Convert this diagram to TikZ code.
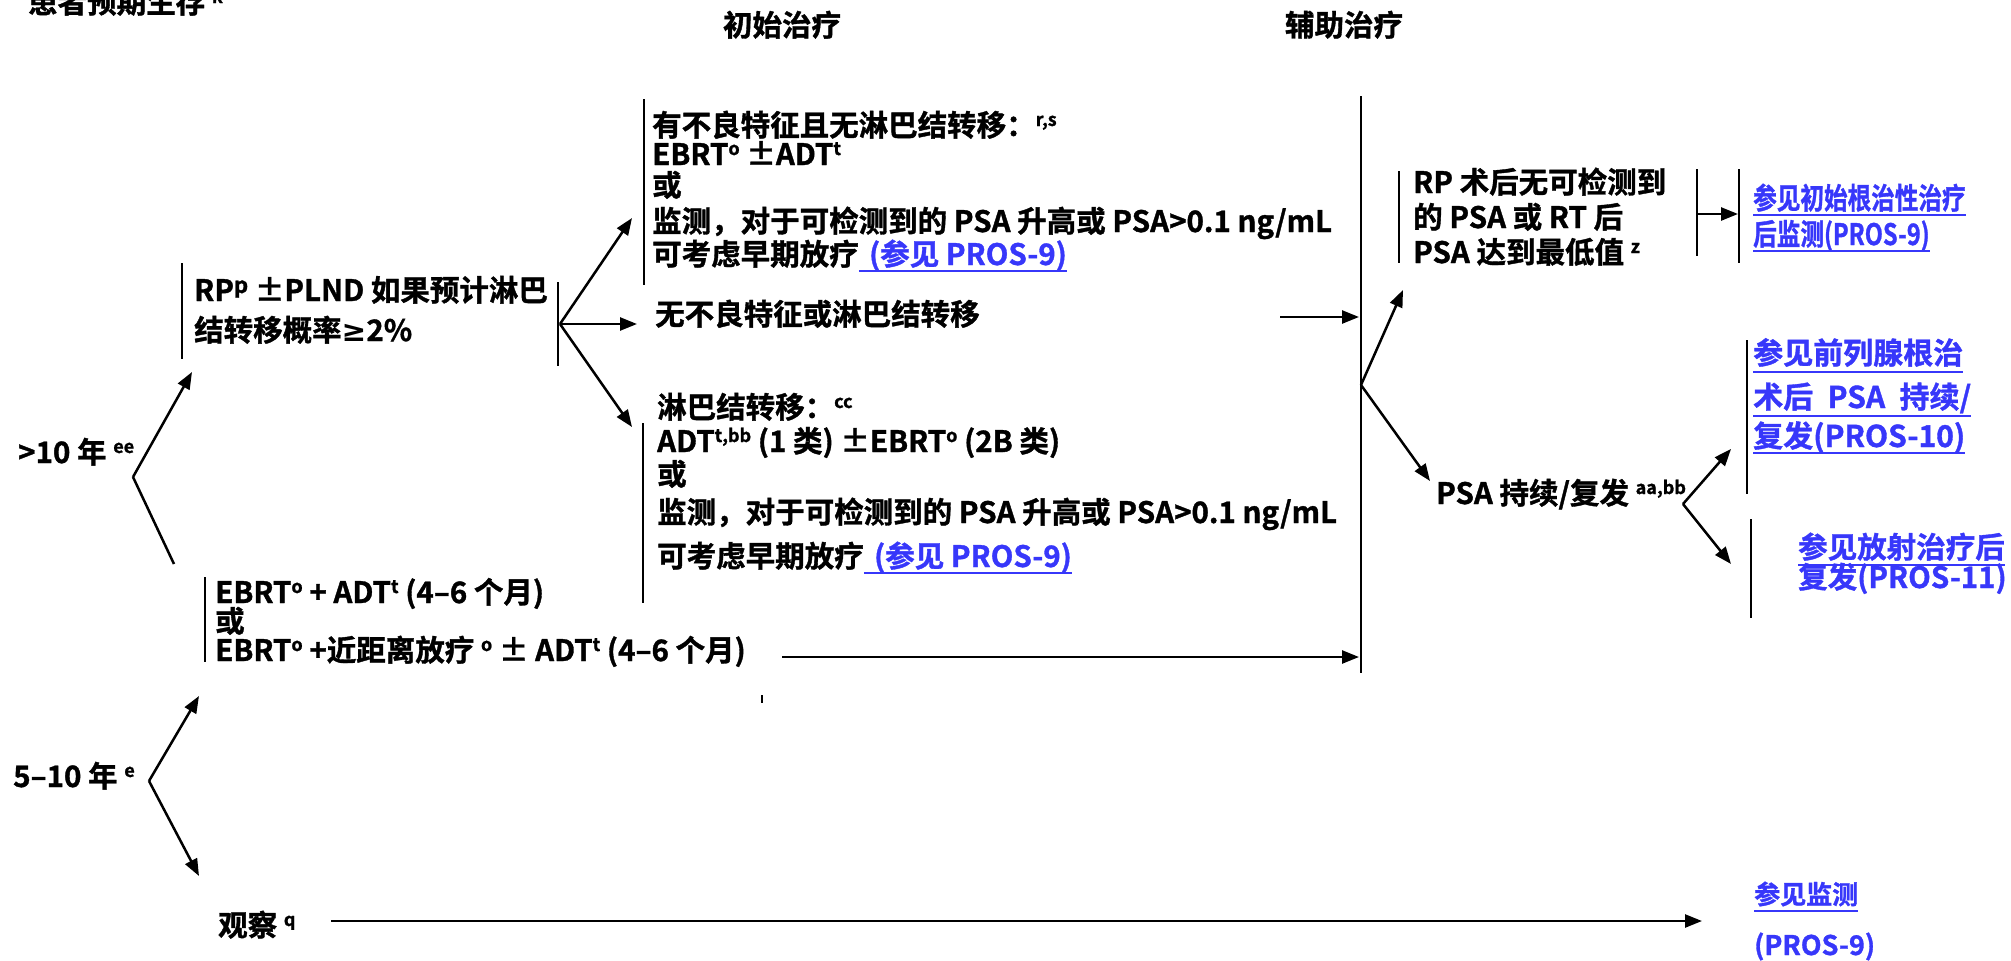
\documentclass[tikz,border=0pt]{standalone}
\usepackage{fontspec}
\usepackage{graphicx}
\setmainfont{Noto Sans CJK SC}[BoldFont={Noto Sans CJK SC Bold},BoldFeatures={FakeBold=1.2}]
\newfontfamily\symf{DejaVu Sans}[BoldFont={DejaVu Sans Bold}]
\usetikzlibrary{arrows.meta}
\definecolor{linkblue}{RGB}{55,55,250}
\newcommand{\ssp}[1]{\raisebox{10pt}{\fontsize{18}{18}\selectfont #1}}
\begin{document}
\begin{tikzpicture}[x=1pt,y=-1pt,
  txt/.style={font=\bfseries\fontsize{29.5}{33}\selectfont, inner sep=0pt, anchor=base west},
  lnk/.style={txt, text=linkblue},
  bar/.style={line width=2.5pt},
  arr/.style={line width=2.5pt, -{Triangle[length=17pt,width=13pt]}},
  ul/.style={draw=linkblue, line width=2.5pt}]
\useasboundingbox (0,0) rectangle (2011,961);

% headers
\node[txt] (hdr1) at (28,13) {患者预期生存 \ssp{k}};
\node[txt, anchor=base] (hdr2) at (782,36) {初始治疗};
\node[txt, anchor=base] (hdr3) at (1344,36) {辅助治疗};

% >10 years
\node[txt] (gt10) at (18,463) {>10 年 \ssp{ee}};
\coordinate (v1) at (133,477);
\coordinate (rpin) at (192,372);
\coordinate (ebin) at (174,564);
\draw[arr] (v1) -- (rpin);
\draw[bar] (v1) -- (ebin);

% RP block
\node[txt] (rp1) at (194,301) {RP\raisebox{8pt}{\fontsize{22}{22}\selectfont p} ±PLND 如果预计淋巴};
\node[txt] (rp2) at (194,341) {结转移概率{\symf\bfseries ≥}2\%};
\draw[bar] (182,263) -- (182,359);
\draw[bar] (558,282) -- (558,366);
\coordinate (v2) at (560,324);
\coordinate (adin) at (632,218);
\coordinate (nfin) at (637,324);
\coordinate (lnin) at (632,427);
\draw[arr] (v2) -- (adin);
\draw[arr] (v2) -- (nfin);
\draw[arr] (v2) -- (lnin);

% adverse features block
\draw[bar] (644,99) -- (644,285);
\node[txt] (ad1) at (652,136) {有不良特征且无淋巴结转移：\ssp{r,s}};
\node[txt] (ad2) at (652,165) {EBRT\ssp{o} ±ADT\ssp{t}};
\node[txt] (ad3) at (652,196) {或};
\node[txt] (ad4) at (652,232) {监测，对于可检测到的 PSA 升高或 PSA>0.1 ng/mL};
\node[txt] (ad5) at (652,265) {可考虑早期放疗};
\node[lnk] (adl) at (ad5.base east) {\hspace{10pt}(参见 PROS-9)\hspace{18pt}};
\draw[ul] ([yshift=-6pt]adl.base west) -- ([yshift=-6pt]adl.base east);

% no adverse features
\node[txt] (nf) at (655,325) {无不良特征或淋巴结转移};
\coordinate (nfout) at (1280,317);
\coordinate (bigin1) at (1359,317);
\draw[arr] (nfout) -- (bigin1);

% lymph node block
\draw[bar] (643,423) -- (643,603);
\node[txt] (ln1) at (657,418) {淋巴结转移：\ssp{cc}};
\node[txt] (ln2) at (657,452) {ADT\ssp{t,bb} (1 类) ±EBRT\ssp{o} (2B 类)};
\node[txt] (ln3) at (657,485) {或};
\node[txt] (ln4) at (657,523) {监测，对于可检测到的 PSA 升高或 PSA>0.1 ng/mL};
\node[txt] (ln5) at (657,567) {可考虑早期放疗};
\node[lnk] (lnl) at (ln5.base east) {\hspace{10pt}(参见 PROS-9)\hspace{18pt}};
\draw[ul] ([yshift=-6pt]lnl.base west) -- ([yshift=-6pt]lnl.base east);

% EBRT block
\draw[bar] (205,577) -- (205,662);
\node[txt] (eb1) at (215,603) {EBRT\ssp{o} + ADT\ssp{t} (4–6 个月)};
\node[txt] (eb2) at (215,632) {或};
\node[txt] (eb3) at (215,661) {EBRT\ssp{o} +近距离放疗 \ssp{o} ± ADT\ssp{t} (4–6 个月)};
\coordinate (ebout) at (782,657);
\coordinate (bigin2) at (1359,657);
\draw[arr] (ebout) -- (bigin2);
\draw[line width=1.5pt] (762,695) -- (762,703);

% big adjuvant bar
\draw[bar] (1361,96) -- (1361,673);

% 5-10 years
\node[txt] (five) at (13,787) {5–10 年 \ssp{e}};
\coordinate (v3) at (149,781);
\coordinate (ebin2) at (199,696);
\coordinate (obsin) at (199,876);
\draw[arr] (v3) -- (ebin2);
\draw[arr] (v3) -- (obsin);

% observation
\node[txt] (obs) at (218,936) {观察 \ssp{q}};
\coordinate (obsout) at (331,921);
\coordinate (monin) at (1702,921);
\draw[arr] (obsout) -- (monin);
\node[lnk, font=\bfseries\fontsize{26}{30}\selectfont] (mon1) at (1754,904) {参见监测};
\draw[ul] ([yshift=-7pt]mon1.base west) -- ([yshift=-7pt]mon1.base east);
\node[lnk, font=\bfseries\fontsize{27}{30}\selectfont] (mon2) at (1754,955) {(PROS-9)};

% adjuvant split
\coordinate (v4) at (1361,385);
\coordinate (undin) at (1403,290);
\coordinate (psain) at (1430,481);
\draw[arr] (v4) -- (undin);
\draw[arr] (v4) -- (psain);

% undetectable PSA block
\draw[bar] (1399,171) -- (1399,263);
\node[txt] (ud1) at (1413,193) {RP 术后无可检测到};
\node[txt] (ud2) at (1413,228) {的 PSA 或 RT 后};
\node[txt] (ud3) at (1413,263) {PSA 达到最低值 \ssp{z}};
\draw[bar] (1697,169) -- (1697,256);
\coordinate (udout) at (1697,214);
\coordinate (fuin) at (1738,214);
\draw[arr] (udout) -- (fuin);
\draw[bar] (1739,169) -- (1739,263);
\node[lnk] (fu1) at (1753,209) {\scalebox{0.8}[1]{参见初始根治性治疗}};
\node[lnk] (fu2) at (1753,245) {\scalebox{0.8}[1]{后监测(PROS-9)}};
\draw[ul] ([yshift=-6pt]fu1.base west) -- ([yshift=-6pt]fu1.base east);
\draw[ul] ([yshift=-6pt]fu2.base west) -- ([yshift=-6pt]fu2.base east);

% PSA persistence
\node[txt] (psa) at (1436,504) {PSA 持续/复发 \ssp{aa,bb}};
\coordinate (v5) at (1683,504);
\coordinate (p10in) at (1731,449);
\coordinate (p11in) at (1731,564);
\draw[arr] (v5) -- (p10in);
\draw[arr] (v5) -- (p11in);

\draw[bar] (1747,340) -- (1747,494);
\node[lnk, font=\bfseries\fontsize{30}{34}\selectfont] (p10a) at (1753,364) {参见前列腺根治};
\node[lnk, font=\bfseries\fontsize{30}{34}\selectfont] (p10b) at (1753,408) {\hbox to 218pt{术后\hfil PSA\hfil 持续/}};
\node[lnk, font=\bfseries\fontsize{30}{34}\selectfont] (p10c) at (1753,447) {复发(PROS-10)};
\draw[ul] ([yshift=-8pt]p10a.base west) -- ([yshift=-8pt]p10a.base east);
\draw[ul] ([yshift=-8pt]p10b.base west) -- ([yshift=-8pt]p10b.base east);
\draw[ul] ([yshift=-6pt]p10c.base west) -- ([yshift=-6pt]p10c.base east);

\draw[bar] (1751,519) -- (1751,618);
\node[lnk] (p11a) at (1798,558) {参见放射治疗后};
\node[lnk] (p11b) at (1798,588) {复发(PROS-11)};
\draw[ul] ([yshift=-7pt]p11a.base west) -- ([yshift=-7pt]p11a.base east);
\end{tikzpicture}
\end{document}
